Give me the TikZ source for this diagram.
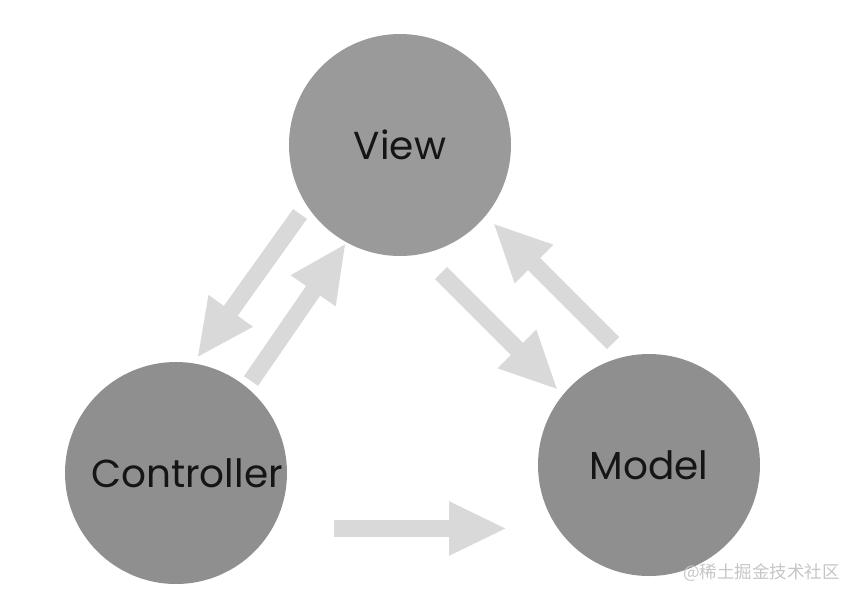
\documentclass[tikz,border=0pt]{standalone}
\usepackage{fontspec}
\setmainfont{Poppins}
\newfontfamily\cjk{Noto Sans CJK SC}
\usetikzlibrary{arrows.meta}
\definecolor{viewgray}{HTML}{9A9A9A}
\definecolor{nodegray}{HTML}{8F8F8F}
\definecolor{arrowgray}{HTML}{D9D9D9}
\definecolor{inkblack}{HTML}{151515}
\tikzset{
  mvcnode/.style={circle, minimum size=222pt, inner sep=0pt, text=inkblack, font=\fontsize{39}{42}\selectfont},
  blockarrow/.style={draw=arrowgray, line width=17pt, -{Triangle[length=58pt,width=50pt]}, arrowgray}
}
\begin{document}
\begin{tikzpicture}[x=1pt,y=-1pt]
\useasboundingbox (0,0) rectangle (848,590);
\node[mvcnode, fill=viewgray] (view) at (400,145) {View};
\node[mvcnode, fill=nodegray] (ctrl) at (176,473) {\hspace*{22pt}Controller};
\node[mvcnode, fill=nodegray] (model) at (649,465) {Model};
% arrow endpoints
\coordinate (vc1) at (300,214);
\coordinate (vc2) at (197,358);
\coordinate (cv1) at (251,381);
\coordinate (cv2) at (346,243);
\coordinate (vm1) at (441,273);
\coordinate (vm2) at (558,390);
\coordinate (mv1) at (613,343);
\coordinate (mv2) at (493,223);
\coordinate (cm1) at (334,528.5);
\coordinate (cm2) at (507,528.5);
\draw[blockarrow] (vc1) -- (vc2);
\draw[blockarrow] (cv1) -- (cv2);
\draw[blockarrow] (vm1) -- (vm2);
\draw[blockarrow] (mv1) -- (mv2);
\draw[blockarrow] (cm1) -- (cm2);
\node[anchor=east, text=gray!45, font=\cjk\fontsize{17.5}{18}\selectfont, inner sep=0pt] (mark) at (840,573) {@稀土掘金技术社区};
\end{tikzpicture}
\end{document}
